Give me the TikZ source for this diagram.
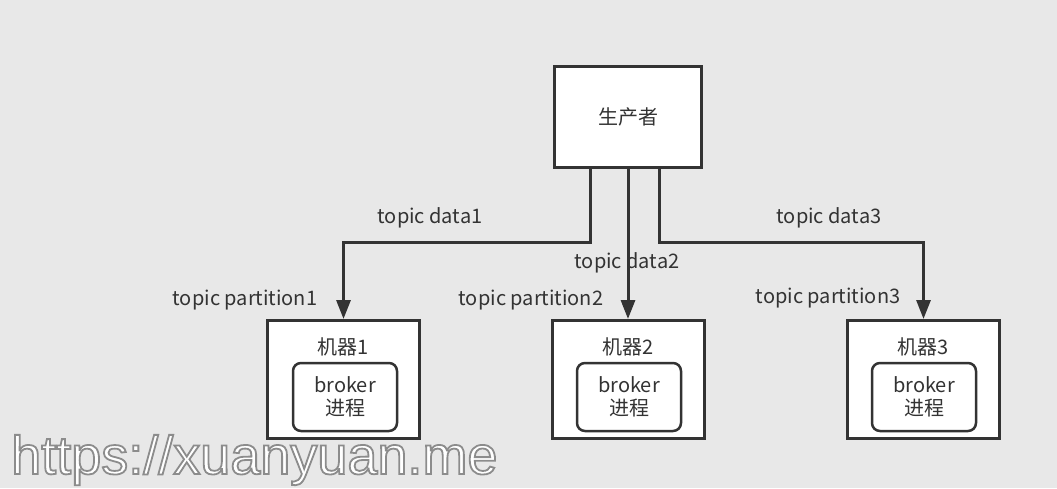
\documentclass[tikz,border=0pt]{standalone}
\usepackage{fontspec}
\setmainfont{Noto Sans CJK SC}
\newfontfamily\wmfont{Liberation Sans}
\usepackage{tikz}
\usetikzlibrary{arrows.meta,positioning,calc}
\definecolor{bgray}{HTML}{E8E8E8}
\definecolor{ink}{HTML}{333333}
\tikzset{
  box/.style={draw=ink, line width=3pt, fill=white, minimum width=152pt, minimum height=118pt, inner sep=0pt},
  prodbox/.style={box, minimum width=147pt, minimum height=101pt},
  brokerbox/.style={draw=ink, line width=2.5pt, rounded corners=8pt, fill=white, minimum width=104pt, minimum height=68pt, align=center, inner sep=0pt},
  lbl/.style={text=ink, font=\fontsize{20}{23}\selectfont, inner sep=0pt},
  conn/.style={draw=ink, line width=3pt, -{Triangle[length=19pt,width=14pt]}},
  wm/.style={font=\wmfont\fontsize{54}{54}\selectfont, inner sep=0pt, anchor=base west, text=white},
}
% outlined text: white fill, gray stroke
\newcommand{\outlinetext}[1]{\special{pdf:code 2 Tr 1.8 w 0.55 G}#1\special{pdf:code 0 Tr}}

\begin{document}
\begin{tikzpicture}[x=1pt,y=-1pt]
    \fill [bgray] (0,0) rectangle (1057,488);
    \useasboundingbox (0,0) rectangle (1057,488);

    % producer and machines
    \node [prodbox, lbl] (prod) at (628,117) {生产者};
    \node [box] (m1) at (343.5,379.5) {};
    \node [box] (m2) at (628.5,379.5) {};
    \node [box] (m3) at (923.5,379.5) {};

    \node [brokerbox, lbl] (b1) at (345,397) {broker\\进程};
    \node [brokerbox, lbl] (b2) at (629,397) {broker\\进程};
    \node [brokerbox, lbl] (b3) at (924,397) {broker\\进程};

    \node [lbl] (n1) at (343,347) {机器1};
    \node [lbl] (n2) at (628,347) {机器2};
    \node [lbl] (n3) at (923,347) {机器3};

    % labels
    \node [lbl] (d1) at (430,218) {topic data1};
    \node [lbl] (d2) at (627,263) {topic data2};
    \node [lbl] (d3) at (829,218) {topic data3};
    \node [lbl] (p1) at (245,300) {topic partition1};
    \node [lbl] (p2) at (531,300) {topic partition2};
    \node [lbl] (p3) at (828,298) {topic partition3};

    % connectors
    \draw [conn] ([xshift=-38pt]prod.south) -- ++(0,73) -| (m1.north);
    \draw [conn] (prod.south) -- (prod.south |- m2.north);
    \draw [conn] ([xshift=31pt]prod.south) -- ++(0,73) -| (m3.north);

    % watermark
    \node [wm] (wm) at (11,474) {\outlinetext{https://xuanyuan.me}};
\end{tikzpicture}
\end{document}
